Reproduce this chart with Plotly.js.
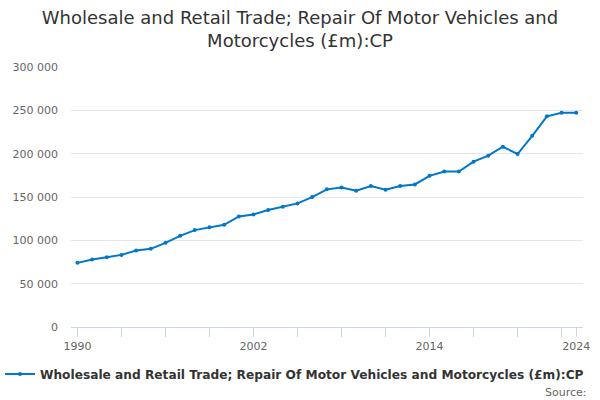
<!DOCTYPE html>
<html>
<head>
<meta charset="utf-8">
<script src="https://cdn.plot.ly/plotly-3.0.1.min.js"></script>
<style>html,body{margin:0;padding:0;background:#fff;}#chart{width:600px;height:400px;}</style>
</head>
<body>
<div id="chart"></div>
<script>
const years = [1990,1991,1992,1993,1994,1995,1996,1997,1998,1999,2000,2001,2002,2003,2004,2005,2006,2007,2008,2009,2010,2011,2012,2013,2014,2015,2016,2017,2018,2019,2020,2021,2022,2023,2024];
const values = [74000,77800,80500,83200,88200,90200,97100,105200,111800,115200,117900,127600,129900,134900,138700,142600,149900,158800,161000,157300,162600,158400,162600,164500,174400,179400,179400,190800,197700,208000,199600,220600,243100,247300,247300];
const seriesName = "Wholesale and Retail Trade; Repair Of Motor Vehicles and Motorcycles (£m):CP";
const titleText = "Wholesale and Retail Trade; Repair Of Motor Vehicles and<br>Motorcycles (£m):CP";
const xTickVals = [1990,1993,1996,1999,2002,2005,2008,2011,2014,2017,2020,2023,2024];
const xTickText = ["1990","","","","2002","","","","2014","","","","2024"];
const yTickVals = [0,50000,100000,150000,200000,250000,300000];

const trace = {
  x: years, y: values, name: seriesName, type: 'scatter', mode: 'lines+markers',
  line: {color: '#0077c8', width: 2},
  marker: {color: '#0077c8', size: 4},
  hoverinfo: 'skip'
};

const layout = {
  width: 600, height: 400,
  separators: '. ',
  font: {family: 'DejaVu Sans, sans-serif', color: '#333'},
  paper_bgcolor: '#fff', plot_bgcolor: '#fff',
  margin: {l: 71, r: 17, t: 67, b: 73},
  title: {text: titleText, font: {size: 18, color: '#333', family: 'DejaVu Sans, sans-serif'}, x: 0.5, xanchor: 'center', y: 0.94, yanchor: 'top', yref: 'container'},
  xaxis: {
    range: [1989.56, 2024.46], tickmode: 'array', tickvals: xTickVals, ticktext: xTickText,
    ticks: 'outside', ticklen: 9, tickcolor: '#ccd6eb', tickwidth: 1,
    showline: true, linecolor: '#ccd6eb', linewidth: 1, showgrid: false, zeroline: false,
    tickfont: {size: 11, color: '#666'}
  },
  yaxis: {
    range: [0, 300000], tickmode: 'array', tickvals: yTickVals, tickformat: ',d',
    showgrid: true, gridcolor: '#e6e6e6', gridwidth: 1, zeroline: false, showline: false,
    ticks: '', ticklabelstandoff: 12,
    tickfont: {size: 11, color: '#666'}
  },
  showlegend: true,
  legend: {orientation: 'h', x: -0.1696, xanchor: 'left', y: 0.065, yref: 'container', yanchor: 'middle',
           font: {size: 12.2, color: '#333', family: 'DejaVu Sans, sans-serif', weight: 'bold'}, itemwidth: 30},
  annotations: [{text: 'Source:', xref: 'paper', yref: 'paper', x: 1.0117, y: -0.25, xanchor: 'right', yanchor: 'middle',
                 showarrow: false, font: {size: 11, color: '#666'}}]
};

Plotly.newPlot('chart', [trace], layout, {displayModeBar: false, staticPlot: true});
</script>
</body>
</html>
